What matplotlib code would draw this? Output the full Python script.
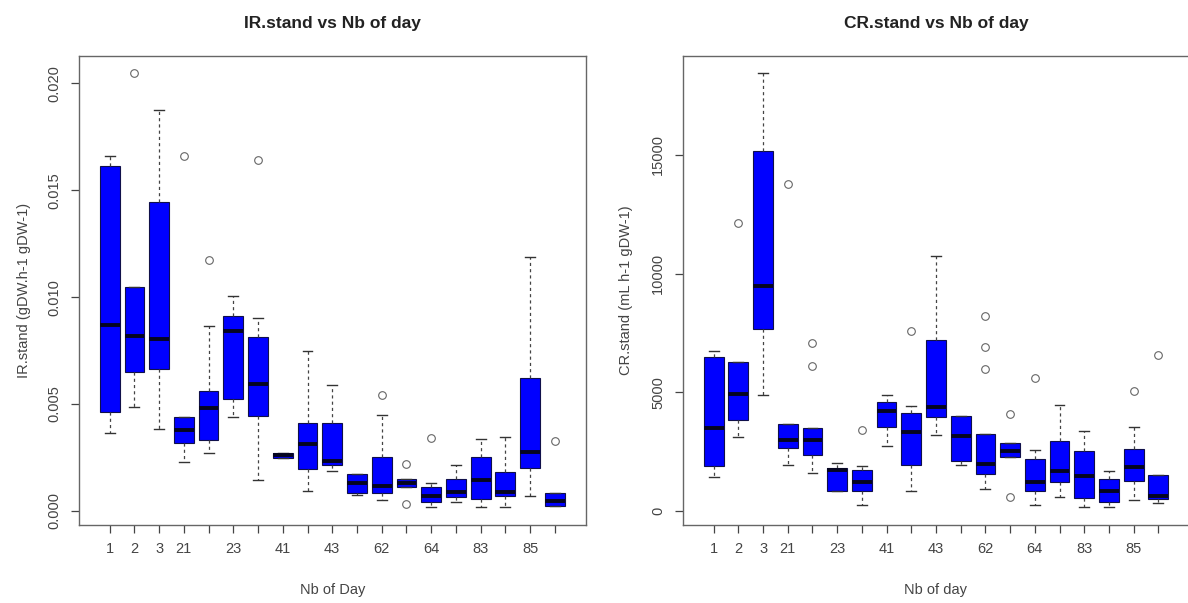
import numpy as np
import matplotlib.pyplot as plt

plt.rcParams['font.family'] = ['Liberation Sans', 'DejaVu Sans']

days = ['1', '2', '3', '21', '22', '23', '24', '41', '42', '43',
        '61', '62', '63', '64', '82', '83', '84', '85', '86']
shown = ['1', '2', '3', '21', '23', '41', '43', '62', '64', '83', '85']

# IR.stand (gDW.h-1 gDW-1) : box stats per day
ir_whislo = [0.00364, 0.00485, 0.00385, 0.00228, 0.00270, 0.00439, 0.00145, 0.00245, 0.00092, 0.00185,
             0.00075, 0.00051, 0.00109, 0.00017, 0.00041, 0.00017, 0.00017, 0.00067, 0.00023]
ir_q1 = [0.00461, 0.00651, 0.00662, 0.00319, 0.00332, 0.00522, 0.00444, 0.00248, 0.00195, 0.00212,
         0.00083, 0.00083, 0.00109, 0.00043, 0.00064, 0.00053, 0.00070, 0.00200, 0.00023]
ir_med = [0.00869, 0.00818, 0.00802, 0.00379, 0.00483, 0.00843, 0.00593, 0.00260, 0.00313, 0.00235,
          0.00132, 0.00117, 0.00129, 0.00070, 0.00087, 0.00145, 0.00086, 0.00274, 0.00048]
ir_q3 = [0.01612, 0.01048, 0.01445, 0.00438, 0.00562, 0.00911, 0.00815, 0.00270, 0.00413, 0.00413,
         0.00170, 0.00254, 0.00150, 0.00111, 0.00150, 0.00254, 0.00182, 0.00622, 0.00083]
ir_whishi = [0.01659, 0.01048, 0.01874, 0.00438, 0.00864, 0.01005, 0.00903, 0.00272, 0.00748, 0.00589,
             0.00170, 0.00447, 0.00150, 0.00129, 0.00213, 0.00335, 0.00346, 0.01188, 0.00083]
ir_out = [[], [0.02047], [], [0.0166], [0.01173], [], [0.01643], [], [], [],
          [], [0.00542], [0.0022, 0.00033], [0.00341], [], [], [], [], [0.00326]]

# CR.stand (mL h-1 gDW-1)
cr_whislo = [1422, 3122, 4894, 1941, 1589, 844, 253, 2714, 844, 3207,
             1941, 914, 2264, 253, 577, 155, 155, 464, 323]
cr_q1 = [1869, 3810, 7666, 2644, 2363, 844, 844, 3516, 1941, 3952,
         2081, 1547, 2264, 815, 1209, 534, 352, 1237, 492]
cr_med = [3489, 4936, 9493, 2995, 2995, 1702, 1209, 4191, 3333, 4374,
          3164, 1969, 2503, 1195, 1659, 1448, 815, 1828, 605]
cr_q3 = [6484, 6274, 15159, 3658, 3502, 1800, 1702, 4571, 4121, 7186,
         3980, 3249, 2855, 2194, 2925, 2531, 1336, 2616, 1519]
cr_whishi = [6721, 6274, 18437, 3658, 3502, 2011, 1870, 4894, 4402, 10730,
             3980, 3249, 2855, 2574, 4472, 3347, 1659, 3530, 1519]
cr_out = [[], [12138], [], [13754], [7075, 6088], [], [3418], [], [7594], [],
          [], [8227, 6905, 5977], [4079, 562], [5597], [], [], [], [5063], [6582]]


def make_stats(whislo, q1, med, q3, whishi, out):
    stats = []
    for i in range(len(med)):
        stats.append(dict(whislo=whislo[i], q1=q1[i], med=med[i], q3=q3[i],
                          whishi=whishi[i], fliers=out[i]))
    return stats


def draw_panel(ax, stats, title, xlab, ylab, yticks, yfmt):
    n = len(stats)
    ax.bxp(stats, positions=np.arange(1, n + 1), widths=0.8, patch_artist=True,
           showfliers=True,
           boxprops=dict(facecolor='#0000ff', edgecolor='#10104a', linewidth=0.8),
           medianprops=dict(color='#050520', linewidth=2.8, solid_capstyle='butt'),
           whiskerprops=dict(color='#444444', linewidth=0.9, linestyle=(0, (2.5, 2.5))),
           capprops=dict(color='#333333', linewidth=1.0),
           capwidths=0.4,
           flierprops=dict(marker='o', markersize=5.5, markerfacecolor='none',
                           markeredgecolor='#666666', markeredgewidth=0.8, linestyle='none'))
    allv = [v for s in stats for v in [s['whislo'], s['whishi']] + list(s['fliers'])]
    lo, hi = min(allv), max(allv)
    pad = (hi - lo) * 0.04
    ax.set_ylim(lo - pad, hi + pad)
    ax.set_xlim(0.5 - 0.04 * n, n + 0.5 + 0.04 * n)
    ax.set_xticks(np.arange(1, n + 1))
    ax.set_xticklabels([d if d in shown else '' for d in days])
    ax.set_yticks(yticks)
    ax.set_yticklabels([yfmt.format(t) for t in yticks], rotation=90, va='center')
    ax.tick_params(axis='both', length=5.5, width=0.9, color='#444444',
                   labelsize=10.5, labelcolor='#444444')
    ax.tick_params(axis='x', pad=7)
    ax.tick_params(axis='y', pad=7)
    for sp in ax.spines.values():
        sp.set_color('#666666')
        sp.set_linewidth(1.0)
    ax.set_title(title, fontsize=12.5, fontweight='bold', color='#222222', pad=20)
    ax.set_xlabel(xlab, fontsize=10.5, color='#444444')
    ax.set_ylabel(ylab, fontsize=10.5, color='#444444')
    ax.xaxis.set_label_coords(0.5, -0.125)


fig = plt.figure(figsize=(11.88, 6.03), dpi=100)
ax1 = fig.add_axes([78.5 / 1188, 78.5 / 603, 507.5 / 1188, 468.5 / 603])
ax2 = fig.add_axes([682.5 / 1188, 78.5 / 603, 507.0 / 1188, 468.5 / 603])

draw_panel(ax1, make_stats(ir_whislo, ir_q1, ir_med, ir_q3, ir_whishi, ir_out),
           'IR.stand vs Nb of day', 'Nb of Day', 'IR.stand (gDW.h-1 gDW-1)',
           [0.0, 0.005, 0.010, 0.015, 0.020], '{:.3f}')
draw_panel(ax2, make_stats(cr_whislo, cr_q1, cr_med, cr_q3, cr_whishi, cr_out),
           'CR.stand vs Nb of day', 'Nb of day', 'CR.stand (mL h-1 gDW-1)',
           [0, 5000, 10000, 15000], '{:.0f}')
ax1.yaxis.set_label_coords(-0.094, 0.5)
ax2.yaxis.set_label_coords(-0.098, 0.5)

fig.savefig('out.png', dpi=100)
